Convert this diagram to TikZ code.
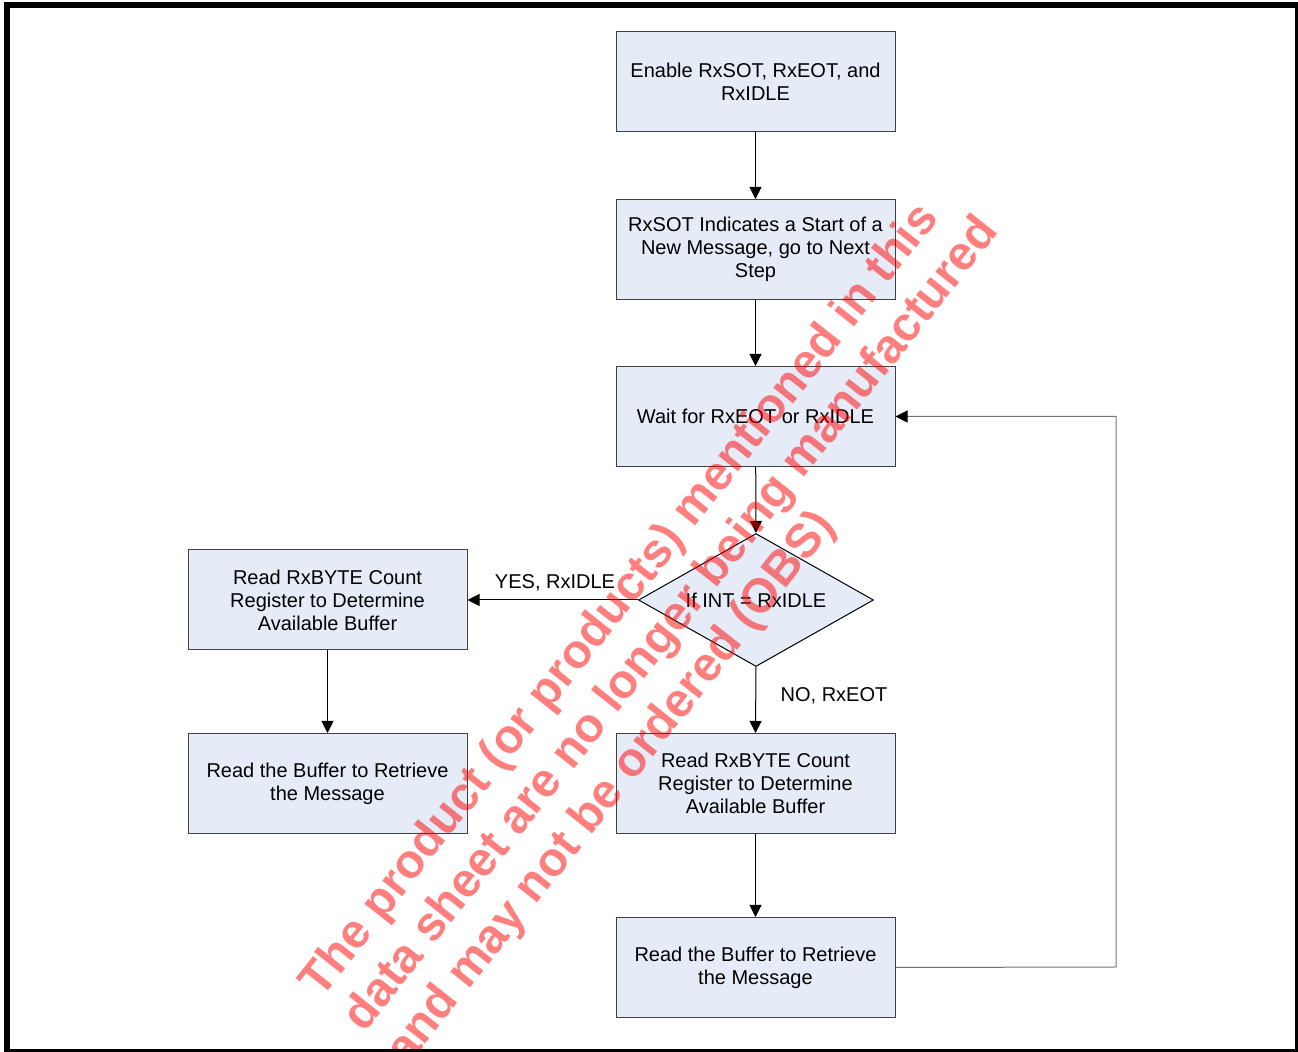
\documentclass[tikz,border=0pt]{standalone}
\usepackage{fontspec}
\setmainfont{Liberation Sans}
\usepackage{tikz}
\usetikzlibrary{shapes.geometric,arrows.meta}
\definecolor{boxfill}{RGB}{230,236,247}

\begin{document}
\begin{tikzpicture}[x=0.5pt,y=-0.5pt,
    stepbox/.style={draw=black!75,fill=boxfill,line width=0.5pt,minimum width=139.5pt,minimum height=50pt,inner sep=0pt,align=center,font=\fontsize{10}{11.5}\selectfont},
    testbox/.style={diamond,draw=black,fill=boxfill,line width=0.5pt,minimum width=117.5pt,minimum height=66.5pt,aspect=1.77,inner sep=0pt,font=\fontsize{10}{11.5}\selectfont},
    flow/.style={line width=0.5pt,-{Triangle[length=6pt,width=6pt,color=black]}},
    lbl/.style={inner sep=0pt,font=\fontsize{10}{11.5}\selectfont}]
            \useasboundingbox (0,0) rectangle (1298,1052);
            % main column
            \node[stepbox] (enable) at (755.5,82) {Enable RxSOT, RxEOT, and\\RxIDLE};
            \node[stepbox] (start) at (755.5,249.5) {RxSOT Indicates a Start of a\\New Message, go to Next\\Step};
            \node[stepbox] (wait) at (755.5,416.5) {Wait for RxEOT or RxIDLE};
            \node[testbox] (test) at (756,600) {If INT = RxIDLE};
            \node[stepbox] (count2) at (755.5,783.5) {Read RxBYTE Count\\Register to Determine\\Available Buffer};
            \node[stepbox] (read2) at (755.5,967.5) {Read the Buffer to Retrieve\\the Message};
            % left column
            \node[stepbox] (count1) at (327.5,600) {Read RxBYTE Count\\Register to Determine\\Available Buffer};
            \node[stepbox] (read1) at (327.5,783.5) {Read the Buffer to Retrieve\\the Message};
            % connectors
            \draw[flow] (enable) -- (start);
            \draw[flow] (start) -- (wait);
            \draw[flow] (wait) -- (test.north);
            \draw[flow] (test.west) -- (count1.east);
            \draw[flow] (test.south) -- (count2.north);
            \draw[flow] (count1) -- (read1);
            \draw[flow] (count2) -- (read2);
            \coordinate (loopcorner) at (1116,967);
            \draw[flow,draw=black!55] (read2.east) -- (loopcorner) |- (wait.east);
            \node[lbl] (yes) at (555,583) {YES, RxIDLE};
            \node[lbl] (no) at (834,696) {NO, RxEOT};
            % watermark
            \node[rotate=51.6,text=red,text opacity=0.5,align=left,inner sep=0pt,
                  font=\fontsize{23.9}{27.5}\selectfont\bfseries] (obs) at (672,625)
                  {The product (or products) mentioned in this\\data sheet are no longer being manufactured\\and may not be ordered (OBS)};
            % frame
            \fill[black] (4,2) rectangle (1298,8);
            \fill[black] (4,2) rectangle (10,1052);
            \fill[black] (1295,2) rectangle (1298,1052);
            \fill[black] (4,1049) rectangle (1298,1052);
        \end{tikzpicture}
\end{document}
